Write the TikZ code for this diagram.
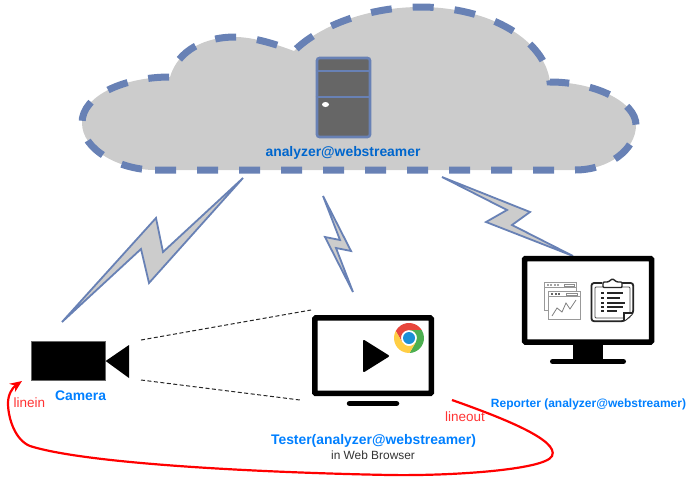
\documentclass[tikz,border=0pt]{standalone}
\usepackage{xcolor}
\usepackage{fontspec}
\setmainfont{Liberation Sans}
\usetikzlibrary{arrows.meta}
\definecolor{cloudgray}{HTML}{CCCCCC}
\definecolor{edgeblue}{HTML}{6881B5}
\definecolor{darkname}{HTML}{0066CC}
\definecolor{lightname}{HTML}{007FFF}
\definecolor{linered}{HTML}{FF3333}
\definecolor{chromered}{HTML}{E8463C}
\definecolor{chromegreen}{HTML}{4CAF50}
\definecolor{chromeyellow}{HTML}{FFCE44}
\definecolor{chromeblue}{HTML}{1C8FD6}
\tikzset{
  bolt/.style={draw=edgeblue,fill=cloudgray,line width=1.8pt,line join=miter,miter limit=8},
  screen/.style={rectangle,draw,line width=5.5pt,fill=white,rounded corners=1pt,inner sep=0pt},
  boldname/.style={font=\fontsize{13.9}{16}\selectfont\bfseries,text=lightname,inner sep=0pt},
  redname/.style={font=\fontsize{13.5}{16}\selectfont,text=linered,inner sep=0pt},
  icon/.style={draw=black!40,line width=0.8pt,fill=white},
  sightline/.style={black!85,line width=1pt,dash pattern=on 4pt off 2.5pt},
}
\begin{document}
\begin{tikzpicture}[x=1pt,y=-1pt]
\useasboundingbox (0,0) rectangle (692,482);
%cloud
\draw[draw=edgeblue,fill=cloudgray,line width=7pt,dash pattern=on 21pt off 21pt]
  (155,170) -- (575,170) .. controls (608,170) and (636,150) .. (636,125)
  .. controls (636,102) and (595,82) .. (550,82)
  .. controls (545,40) and (490,7) .. (420,7)
  .. controls (370,7) and (320,25) .. (294,51)
  .. controls (270,42) and (250,37) .. (235,37)
  .. controls (205,37) and (178,50) .. (170,77)
  .. controls (125,77) and (82,95) .. (82,123)
  .. controls (82,150) and (120,170) .. (155,170) -- cycle;
%server
\path (343.5,97.5) node(server) [rectangle,draw=edgeblue,fill=black!60,line width=2.6pt,rounded corners=2.5pt,
  minimum width=53pt,minimum height=79pt,inner sep=0pt] {};
\draw[edgeblue,line width=2.4pt] (server.west |- 0,71) -- (server.east |- 0,71);
\draw[edgeblue,line width=2.4pt] (server.west |- 0,97) -- (server.east |- 0,97);
\fill[white] (325.5,104.5) ellipse (3.5pt and 2.5pt);
\path (343,153) node(analyzer) [boldname,text=darkname] {analyzer@webstreamer};
%bolts
\draw[bolt] (243,178) -- (163,252) -- (156,218) -- (62,322) -- (141,249) -- (149,283) -- cycle;
\draw[bolt] (323,196) -- (351,251) -- (336,248) -- (353,292) -- (325,237) -- (340,240) -- cycle;
\draw[bolt] (442,177) -- (530,212) -- (512,225) -- (573,256) -- (486,222) -- (507,210) -- cycle;
%camera
\path (68.3,361) node(camera) [rectangle,draw=black!60,fill=black,line width=0.7pt,minimum width=74pt,minimum height=39.5pt,inner sep=0pt] {};
\fill (camera.east) -- (129,345) -- (129,378) -- cycle;
\path (80.5,396) node(cameralabel) [boldname] {Camera};
\path (29.5,403) node(linein) [redname] {linein};
%tester
\path (373,355.7) node(tester) [screen,minimum width=116.5pt,minimum height=75.5pt] {};
\draw[line width=5.5pt,line cap=round] (349.5,403.5) -- (396.5,403.5);
\fill[line width=2pt,draw,line join=round] (364,341) -- (388,356) -- (364,371) -- cycle;
\begin{scope}[shift={(409,338)},yscale=-1]
\foreach \turn/\shade in {0/chromered,120/chromegreen,240/chromeyellow}
  \fill[\shade,rotate=\turn] (32:15) arc[start angle=32,end angle=152,radius=15] -- (210:8)
    arc[start angle=210,end angle=90,radius=8] -- cycle;
\fill[chromeblue] (0,0) circle (6pt);
\end{scope}
\path (373.5,441) node(testerlabel) [boldname] {Tester(analyzer@webstreamer)};
\path (373,455) node(browser) [font=\fontsize{11.9}{14}\selectfont,text=black!80,inner sep=0pt] {in Web Browser};
\path (465,417) node(lineout) [redname] {lineout};
%reporter
\path (588,300.3) node(reporter) [screen,minimum width=127pt,minimum height=83.5pt] {};
\fill (573,344) rectangle (603,360);
\draw[line width=5pt,line cap=round] (552.5,361.5) -- (623.5,361.5);
\path (588.5,404) node(reporterlabel) [boldname,font=\fontsize{12}{16}\selectfont\bfseries] {Reporter (analyzer@webstreamer)};
%report icons
\draw[icon] (544,282.5) rectangle (576,310);
\draw[icon] (544,287.5) -- (576,287.5);
\draw[icon] (548.5,291.5) rectangle (580,319);
\draw[icon] (548.5,296.5) -- (580,296.5);
\foreach \dot in {551,554.5,558}
  \fill[black!60] (\dot,292.8) rectangle +(2.2,2.4);
\foreach \dot in {546.5,550,553.5,557}
  \fill[black!35] (\dot,283.8) rectangle +(2.2,2.4);
\draw[black!45,line width=0.8pt] (566,293) rectangle (577,295);
\draw[black!45,line width=0.8pt] (564,284) rectangle (574,286);
\draw[black!50,line width=0.8pt] (552,316) -- (557,308) -- (562,312) -- (566,303) -- (570,309) -- (576,300);
\draw[black!85,line width=1.8pt,rounded corners=2.5pt] (602,283) -- (591.5,283) -- (591.5,321.2) -- (624,321.2) -- (633.2,313) -- (633.2,283) -- (622,283);
\draw[black!70,line width=0.8pt,rounded corners=1pt] (595,287) rectangle (630,318);
\draw[black!85,line width=1.4pt,fill=white,rounded corners=1pt] (603,287.5) -- (603,282) -- (608,282) -- (612.5,278.8) -- (617,282) -- (622,282) -- (622,287.5) -- cycle;
\foreach \row/\stop in {293/623,298/620,303/624.5,307/623,311/617}{
  \fill[black!85] (601,\row-0.8) rectangle (603.5,\row+0.8);
  \fill[black!85] (607,\row-0.6) rectangle (\stop,\row+0.6);
}
\draw[black!85,line width=1.2pt,fill=white] (624,321) -- (624,313) -- (633,313);
%connectors
\coordinate (lensup) at (141,340);
\coordinate (lensdown) at (141,380);
\coordinate (testerup) at (311,310);
\coordinate (testerdown) at (300,400);
\draw[sightline] (lensup) -- (testerup);
\draw[sightline] (lensdown) -- (testerdown);
\coordinate (outstart) at (452,400);
\coordinate (inend) at (22,381);
\draw[red,line width=2.2pt,-{Stealth[length=12pt,width=10pt]}] (outstart)
  .. controls (500,417) and (560,440) .. (552,456)
  .. controls (545,470) and (450,476) .. (390,475)
  .. controls (280,473) and (90,465) .. (30,446)
  .. controls (15,440) and (8,418) .. (8,403)
  .. controls (8,395) and (12,388) .. (inend);
\end{tikzpicture}
\end{document}
